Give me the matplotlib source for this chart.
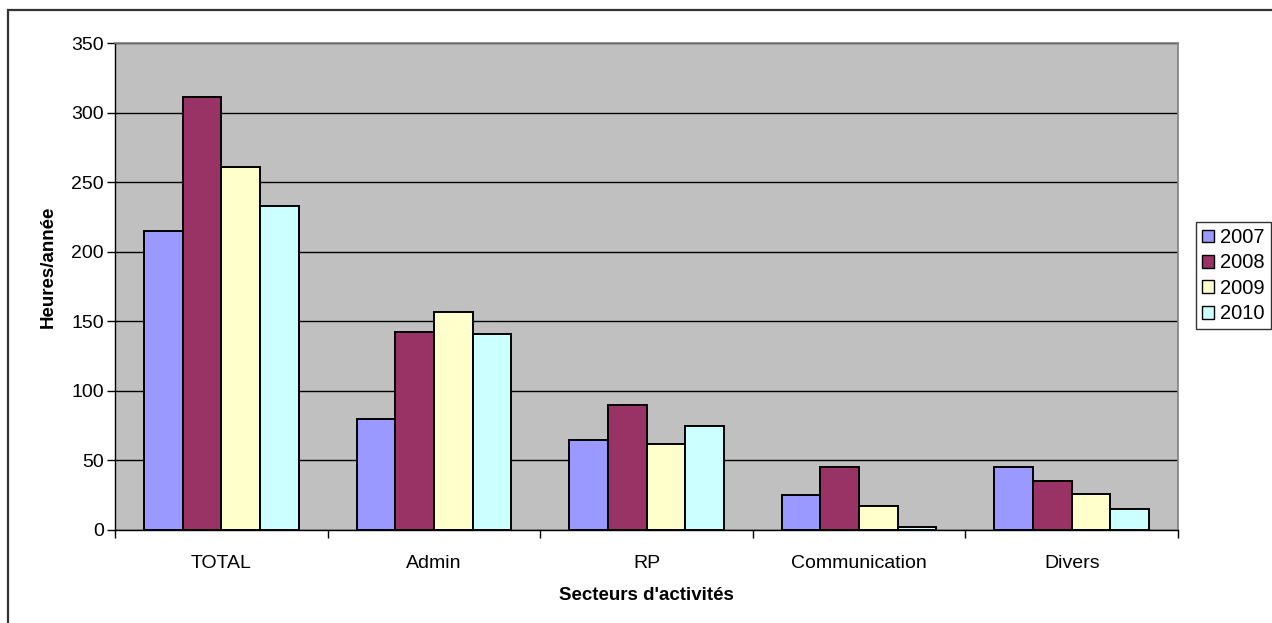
import numpy as np
import matplotlib
matplotlib.use('Agg')
import matplotlib.pyplot as plt
from matplotlib.patches import Rectangle, Patch

plt.rcParams['font.family'] = ['Liberation Sans', 'DejaVu Sans']

categories = ['TOTAL', 'Admin', 'RP', 'Communication', 'Divers']
years = ['2007', '2008', '2009', '2010']
v2007 = [215, 80, 65, 25, 45]
v2008 = [311, 142, 90, 45, 35]
v2009 = [261, 157, 62, 17, 26]
v2010 = [233, 141, 75, 2, 15]
series = [v2007, v2008, v2009, v2010]
colors = ['#9999FF', '#993366', '#FFFFCC', '#CCFFFF']
yticks = [0, 50, 100, 150, 200, 250, 300, 350]

W, H = 1272, 623
fig = plt.figure(figsize=(W / 100, H / 100), dpi=100)

# chart area border (clipped by the image edges)
fig.patches.append(Rectangle((8 / W, -0.1), 1.2, 1 - 10 / H + 0.1,
                             transform=fig.transFigure, fill=False,
                             edgecolor='#333333', linewidth=1.6))

ax = fig.add_axes([115 / W, 1 - 530 / H, (1178 - 115) / W, (530 - 43) / H])
ax.set_facecolor('#C0C0C0')

n = len(years)
bw = 1 / (n + 1.5)
x = np.arange(len(categories))
for i, (vals, c) in enumerate(zip(series, colors)):
    ax.bar(x - 0.5 + 0.75 * bw + i * bw + bw / 2, vals, width=bw, color=c,
           edgecolor='black', linewidth=1.4, label=years[i], zorder=3)

ax.set_xlim(-0.5, len(categories) - 0.5)
ax.set_ylim(0, 350)
ax.set_yticks(yticks)
ax.yaxis.grid(True, color='black', linewidth=1, zorder=1)
ax.set_axisbelow(True)

ax.set_xticks(np.arange(len(categories) + 1) - 0.5)
ax.set_xticklabels([])
ax.set_xticks(x, minor=True)
ax.set_xticklabels(categories, minor=True, fontsize=14)
ax.tick_params(axis='x', which='minor', length=0, pad=18)
ax.tick_params(axis='x', which='major', length=6, direction='out', width=1)
ax.tick_params(axis='y', length=6, direction='out', width=1, labelsize=14, pad=2)

for s in ['top', 'right']:
    ax.spines[s].set_color('#808080')
    ax.spines[s].set_linewidth(1.2)
for s in ['left', 'bottom']:
    ax.spines[s].set_color('black')
    ax.spines[s].set_linewidth(1)

ax.set_ylabel('Heures/année', fontsize=13.5, fontweight='bold')
ax.yaxis.set_label_coords(-0.055, 0.54)
ax.set_xlabel("Secteurs d'activités", fontsize=13.5, fontweight='bold', labelpad=11)

handles = [Patch(facecolor=c, edgecolor='black', linewidth=1) for c in colors]
leg = fig.legend(handles, years, loc='upper left',
                 bbox_to_anchor=(1196 / W, 1 - 222 / H), fontsize=14.5,
                 frameon=True, fancybox=False, edgecolor='black',
                 handlelength=0.6, handleheight=0.6, handletextpad=0.3,
                 labelspacing=0.32, borderpad=0.3, borderaxespad=0)
leg.get_frame().set_linewidth(1)

fig.savefig('out.png', dpi=100)
